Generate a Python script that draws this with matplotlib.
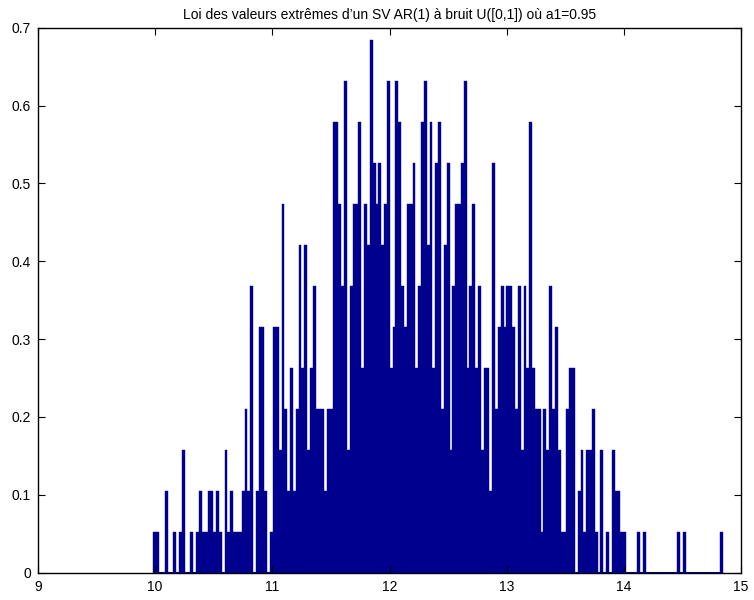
import numpy as np
import matplotlib
matplotlib.use("Agg")
from matplotlib import pyplot as plt

plt.rcParams['font.family'] = ['Liberation Sans', 'DejaVu Sans']

# %% Data (counts per bin)
x_min, x_max = 9.985, 14.845
unit = 1 / 19.0  # height of one count after normalisation
counts = [
    1, 1, 0, 0, 2, 0, 0, 1, 0, 1, 3, 0, 0, 1, 0, 1, 2, 1, 1, 2,
    2, 1, 2, 1, 0, 3, 1, 2, 1, 1, 1, 2, 4, 2, 7, 0, 2, 6, 6, 2,
    0, 1, 6, 6, 3, 9, 4, 2, 5, 2, 4, 8, 5, 8, 3, 5, 7, 4, 4, 4,
    2, 4, 4, 11, 11, 9, 7, 12, 3, 7, 9, 9, 11, 5, 9, 8, 13, 10, 9, 10,
    8, 9, 12, 5, 6, 12, 11, 7, 6, 9, 9, 10, 5, 7, 11, 12, 8, 11, 5, 10,
    11, 4, 8, 10, 3, 7, 9, 9, 10, 12, 5, 7, 9, 5, 7, 3, 5, 5, 2, 10,
    4, 6, 7, 6, 7, 7, 6, 4, 7, 3, 7, 5, 11, 5, 4, 4, 1, 4, 3, 7,
    4, 6, 3, 1, 1, 4, 5, 5, 0, 2, 3, 1, 3, 3, 4, 1, 0, 3, 0, 1,
    0, 3, 2, 2, 1, 1, 0, 0, 0, 0, 1, 0, 1, 0, 0, 0, 0, 0, 0, 0,
    0, 0, 0, 0, 1, 0, 1, 0, 0, 0, 0, 0, 0, 0, 0, 0, 0, 0, 0, 1,
]
title = "Loi des valeurs extrêmes d\u2019un SV AR(1) à bruit U([0,1]) où a1=0.95"
xticks = [9, 10, 11, 12, 13, 14, 15]
yticks = [0, 0.1, 0.2, 0.3, 0.4, 0.5, 0.6, 0.7]
ytick_labels = ["0", "0.1", "0.2", "0.3", "0.4", "0.5", "0.6", "0.7"]

# %% Figure
navy = "#00008f"
n_bins = len(counts)
edges = np.linspace(x_min, x_max, n_bins + 1)
centers = (edges[:-1] + edges[1:]) / 2
width = edges[1] - edges[0]
heights = np.array(counts) * unit

fig = plt.figure(figsize=(7.54, 6.0), dpi=100)
ax = fig.add_axes([0.0504, 0.0455, 0.9324, 0.9083])
ax.bar(centers, heights, width=width, color=navy, edgecolor=navy, linewidth=0.3)
ax.plot([edges[0], edges[-1]], [0, 0], color=navy, lw=1.5, solid_capstyle='butt')

ax.set_xlim(9, 15)
ax.set_ylim(0, 0.7)
ax.set_xticks(xticks)
ax.set_yticks(yticks)
ax.set_yticklabels(ytick_labels)
ax.tick_params(direction='in', top=True, right=True, length=5, labelsize=10, pad=5)
for s in ax.spines.values():
    s.set_linewidth(1.0)
ax.set_title(title, fontsize=10, pad=6)

fig.savefig("out.png", dpi=100)
plt.close(fig)
